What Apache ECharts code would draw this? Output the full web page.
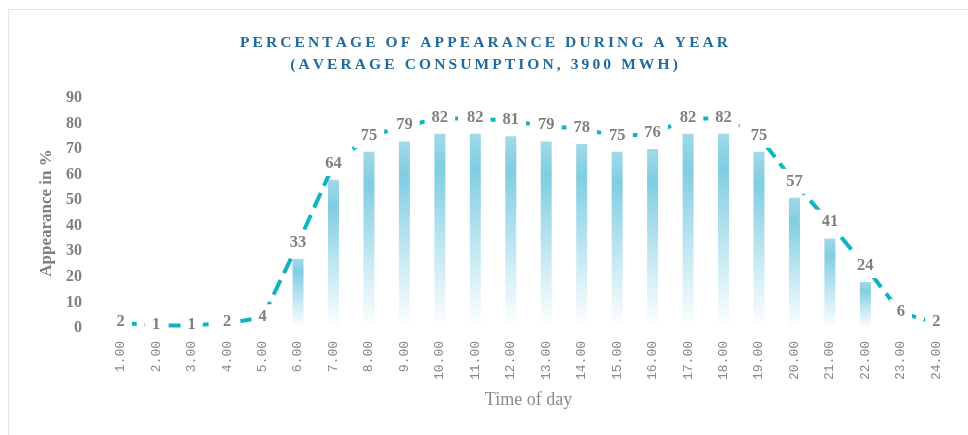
<!DOCTYPE html>
<html>
<head>
<meta charset="utf-8">
<script src="https://cdn.jsdelivr.net/npm/echarts@6/dist/echarts.min.js"></script>
<style>
  html, body { margin: 0; padding: 0; background: #fff; }
  #chart { width: 968px; height: 435px; }
</style>
</head>
<body>
<div id="chart"></div>
<script>
// time of day categories
const hours = ['1.00', '2.00', '3.00', '4.00', '5.00', '6.00', '7.00', '8.00', '9.00', '10.00', '11.00', '12.00',
  '13.00', '14.00', '15.00', '16.00', '17.00', '18.00', '19.00', '20.00', '21.00', '22.00', '23.00', '24.00'];
// appearance in % (line + labels)
const appearance = [2, 1, 1, 2, 4, 33, 64, 75, 79, 82, 82, 81, 79, 78, 75, 76, 82, 82, 75, 57, 41, 24, 6, 2];
// gradient columns under the line
const columns = [0, 0, 0, 0, 0, 27, 58, 69, 73, 76, 76, 75, 73, 72, 69, 70, 76, 76, 69, 51, 35, 18, 0, 0];

const titleLines = ['PERCENTAGE OF APPEARANCE DURING A YEAR', '(AVERAGE CONSUMPTION, 3900 MWH)'];
const spaced = s => s.split('').join('\u2009');

const grey = '#7f7f7f';
const serif = '"Liberation Serif", "DejaVu Serif", serif';

const chart = echarts.init(document.getElementById('chart'));
const option = {
  backgroundColor: '#fff',
  animation: false,
  graphic: [{
    type: 'rect',
    shape: { x: 8.5, y: 9.5, width: 990, height: 450 },
    style: { fill: 'none', stroke: '#e4e4e4', lineWidth: 1 },
    silent: true
  }],
  title: {
    text: titleLines.map(spaced).join('\n'),
    left: 'center',
    top: 27,
    textStyle: {
      fontFamily: serif,
      fontWeight: 'bold',
      fontSize: 15.5,
      lineHeight: 22,
      color: '#1f6a9e'
    }
  },
  grid: {
    left: 103,
    right: 14,
    top: 98,
    bottom: 107
  },
  xAxis: {
    type: 'category',
    data: hours,
    name: 'Time of day',
    nameLocation: 'middle',
    nameGap: 63,
    nameTextStyle: {
      fontFamily: serif,
      fontSize: 18,
      color: '#8a8a8a'
    },
    axisLine: { show: false },
    axisTick: { show: false },
    axisLabel: {
      rotate: 90,
      margin: 13,
      fontFamily: '"Liberation Mono", monospace',
      fontSize: 13,
      color: '#8a8a8a'
    }
  },
  yAxis: {
    type: 'value',
    min: 0,
    max: 90,
    interval: 10,
    name: 'Appearance in %',
    nameLocation: 'middle',
    nameRotate: 90,
    nameGap: 47,
    nameTextStyle: {
      fontFamily: serif,
      fontWeight: 'bold',
      fontSize: 17,
      color: grey
    },
    splitLine: { show: false },
    axisLine: { show: false },
    axisTick: { show: false },
    axisLabel: {
      margin: 21,
      fontFamily: serif,
      fontWeight: 'bold',
      fontSize: 16,
      color: grey
    }
  },
  series: [
    {
      name: 'columns',
      type: 'bar',
      data: columns,
      barWidth: 11,
      z: 1,
      itemStyle: {
        color: new echarts.graphic.LinearGradient(0, 0, 0, 1, [
          { offset: 0, color: '#a2d9e8' },
          { offset: 0.18, color: '#80cde2' },
          { offset: 0.6, color: '#c4e8f2' },
          { offset: 1, color: '#ffffff' }
        ])
      }
    },
    {
      name: 'appearance',
      type: 'line',
      data: appearance,
      symbol: 'circle',
      symbolSize: 2,
      showSymbol: true,
      z: 3,
      itemStyle: { color: '#10b3c2' },
      lineStyle: {
        color: '#10b3c2',
        width: 4,
        type: [16, 8]
      },
      label: {
        show: true,
        position: 'top',
        distance: 0,
        verticalAlign: 'middle',
        fontFamily: serif,
        fontWeight: 'bold',
        fontSize: 16.5,
        color: grey,
        backgroundColor: '#fff',
        padding: [4, 7]
      }
    }
  ]
};
chart.setOption(option);
</script>
</body>
</html>
